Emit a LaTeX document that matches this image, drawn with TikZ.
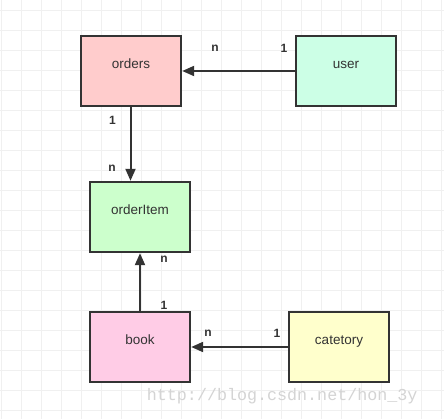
\documentclass[tikz,border=0pt]{standalone}
\usepackage{fontspec}
\setmainfont{Liberation Sans}
\newfontfamily\wmfont{Liberation Mono}
\usetikzlibrary{arrows.meta}
\definecolor{gridc}{HTML}{F0F0F0}
\definecolor{edgec}{HTML}{333333}
\definecolor{ordersc}{HTML}{FFCCCC}
\definecolor{userc}{HTML}{CCFFE6}
\definecolor{itemc}{HTML}{CCFFCC}
\definecolor{bookc}{HTML}{FFCCE6}
\definecolor{catc}{HTML}{FFFFCC}
\definecolor{wmc}{HTML}{D4D4D4}
\newcommand\etxt[1]{\raisebox{2.5pt}[0pt][0pt]{#1}}
\tikzset{
  entity/.style={draw=edgec, line width=2.4pt, minimum width=100pt, minimum height=70pt, inner sep=0pt, font=\fontsize{13.5}{15}\selectfont, text=edgec},
  rel/.style={draw=edgec, line width=2pt, -{Triangle[length=12pt,width=10pt]}},
  card/.style={font=\bfseries\fontsize{12}{13}\selectfont, text=edgec, inner sep=0pt},
}
\begin{document}
\begin{tikzpicture}[x=1pt,y=-1pt]
\useasboundingbox (0,0) rectangle (444,419);
\fill[white] (0,0) rectangle (444,419);
\foreach \gx in {1.5,21.5,...,441.5} \draw[gridc, line width=0.8pt] (\gx,0) -- (\gx,419);
\foreach \gy in {10,30,...,410} \draw[gridc, line width=0.8pt] (0,\gy) -- (444,\gy);

\node[entity, fill=ordersc] (orders) at (131,71) {\etxt{orders}};
\node[entity, fill=userc] (user) at (346,71) {\etxt{user}};
\node[entity, fill=itemc] (item) at (140,217) {\etxt{orderItem}};
\node[entity, fill=bookc] (book) at (140,347) {\etxt{book}};
\node[entity, fill=catc] (cat) at (339,347) {\etxt{catetory}};

\draw[rel] (user.west) -- (orders.east);
\draw[rel] (orders.south -| 130.5,0) -- (item.north -| 130.5,0);
\draw[rel] (book.north) -- (item.south);
\draw[rel] (cat.west) -- (book.east);

\node[card] (l1) at (215,48) {n};
\node[card] (l2) at (284,48) {1};
\node[card] (l3) at (112.5,120) {1};
\node[card] (l4) at (112,168) {n};
\node[card] (l5) at (164,259) {n};
\node[card] (l6) at (164,305) {1};
\node[card] (l7) at (208,333) {n};
\node[card] (l8) at (277,333) {1};

\node[anchor=base west, inner sep=0pt, text=wmc, font=\wmfont\fontsize{16.7}{18}\selectfont] (wm) at (146.7,400) {http://blog.csdn.net/hon\_3y};
\end{tikzpicture}
\end{document}
